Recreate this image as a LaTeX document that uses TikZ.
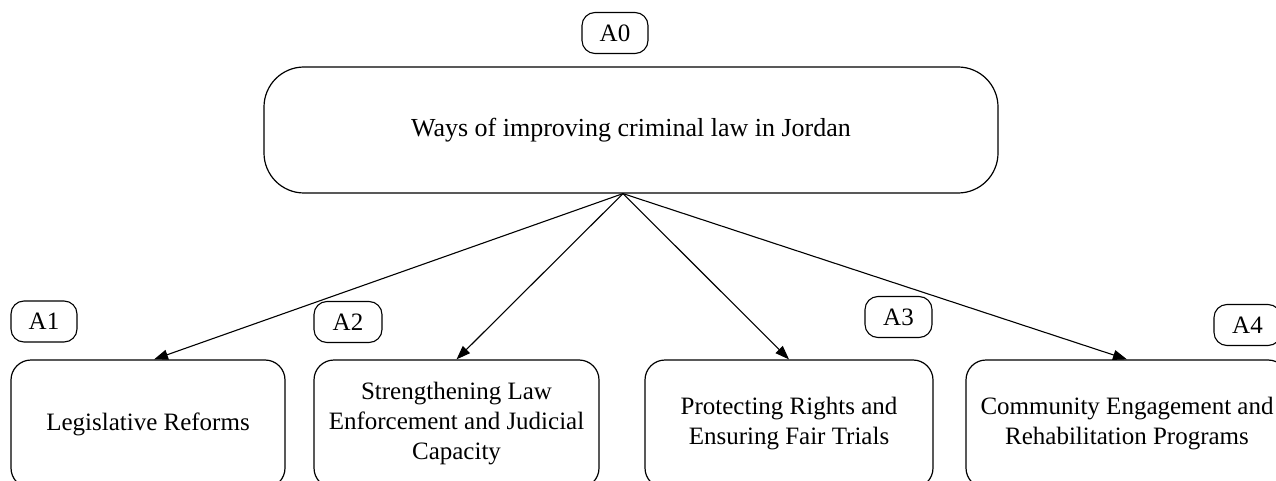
\documentclass[tikz,border=0pt]{standalone}
\usepackage{fontspec}
\setmainfont{Liberation Serif}
\usetikzlibrary{arrows.meta}
\begin{document}
\begin{tikzpicture}[x=1pt,y=-1pt,
  box/.style={draw, line width=1.2pt, align=center, inner sep=0pt, font=\fontsize{25}{30}\selectfont},
  tag/.style={draw, line width=1.1pt, rounded corners=13pt, inner sep=0pt, minimum height=41pt, font=\fontsize{25}{30}\selectfont},
  arr/.style={line width=1.1pt, -{Triangle[length=14pt,width=10pt]}}]
\useasboundingbox (0,0) rectangle (1276,481);
\clip (0,0) rectangle (1276,481);
\node[tag, minimum width=66pt] (a0) at (615,33) {A0};
\node[box, rounded corners=40pt, minimum width=734pt, minimum height=126pt, font=\fontsize{26}{30}\selectfont] (main) at (631,130) {Ways of improving criminal law in Jordan};
\node[tag, minimum width=66pt] (a1) at (44,321.5) {A1};
\node[tag, minimum width=68pt] (a2) at (348,322) {A2};
\node[tag, minimum width=67pt] (a3) at (898.5,317) {A3};
\node[tag, minimum width=67pt] (a4) at (1247.5,325) {A4};
\node[box, rounded corners=20pt, minimum width=274pt, minimum height=128pt] (b1) at (148,424) {Legislative Reforms};
\node[box, rounded corners=20pt, minimum width=285pt, minimum height=128pt] (b2) at (456.5,424) {Strengthening Law\\Enforcement and Judicial\\Capacity};
\node[box, rounded corners=20pt, minimum width=288pt, minimum height=128pt] (b3) at (789,424) {Protecting Rights and\\Ensuring Fair Trials};
\node[box, rounded corners=20pt, minimum width=322pt, minimum height=128pt] (b4) at (1127,424) {Community Engagement and\\Rehabilitation Programs};
\coordinate (apex) at ([xshift=-8pt]main.south);
\draw[arr] (apex) -- ([xshift=6pt]b1.north);
\draw[arr] (apex) -- (b2.north);
\draw[arr] (apex) -- (b3.north);
\draw[arr] (apex) -- (b4.north);
\end{tikzpicture}
\end{document}
